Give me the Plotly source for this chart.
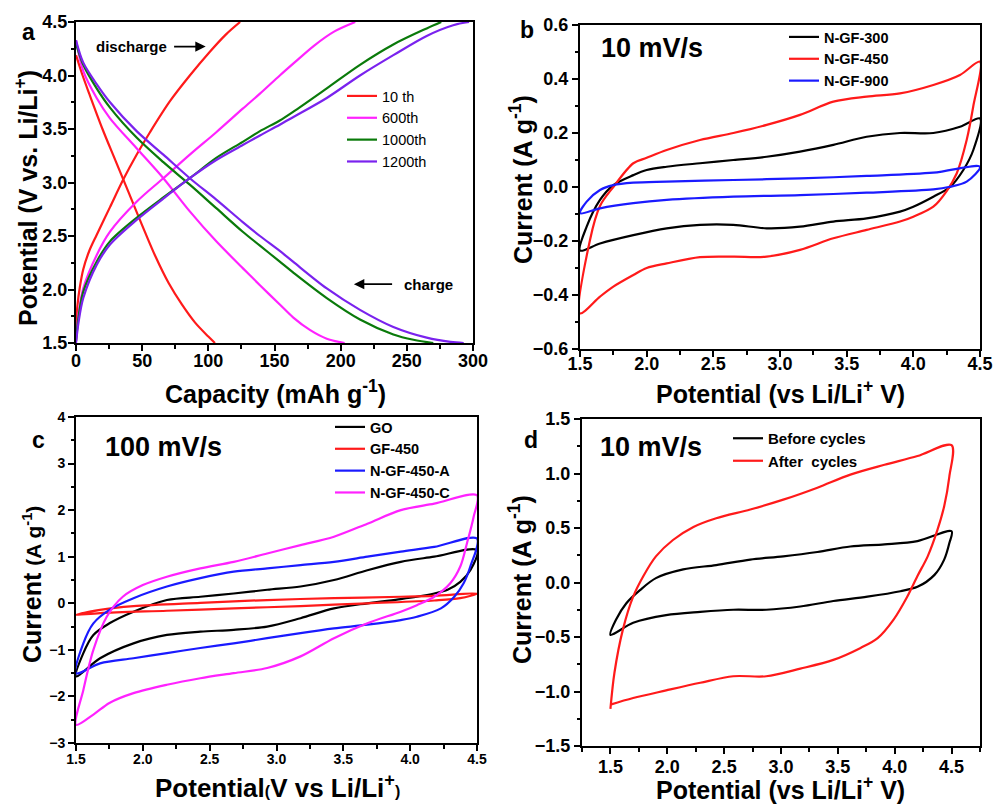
import plotly.graph_objects as go

# ---------------- Panel a data (capacity mAh/g, potential V) ----------------
a_names = ["10 th", "600th", "1000th", "1200th"]
a_colors = ["#ff1a1a", "#ff22ff", "#0a7a0a", "#7a22ee"]

a10_dis_cap = [0, 1, 3, 5.5, 10, 15.6, 25.7, 35.8, 45.8, 55.9, 71, 86, 101, 113, 124]
a10_dis_v = [1.65, 1.84, 2.03, 2.19, 2.36, 2.51, 2.77, 3.03, 3.26, 3.47, 3.76, 4.0, 4.22, 4.38, 4.5]
a10_chg_cap = [0, 5, 10, 20, 30, 40, 50, 60, 70, 80, 90, 100, 105]
a10_chg_v = [4.19, 4.0, 3.83, 3.5, 3.2, 2.9, 2.6, 2.31, 2.06, 1.86, 1.69, 1.56, 1.5]

a600_dis_cap = [0, 2, 5.5, 15.6, 25.7, 45.8, 66, 86, 106, 126, 139, 154, 165, 180, 195, 211]
a600_dis_v = [1.52, 1.78, 2.01, 2.32, 2.54, 2.82, 3.04, 3.26, 3.47, 3.69, 3.83, 4.0, 4.12, 4.28, 4.41, 4.5]
a600_chg_cap = [0, 5.5, 15.6, 25.7, 45.8, 66, 86, 106, 126, 139, 154, 164, 177, 189.5, 203]
a600_chg_v = [4.33, 4.04, 3.79, 3.6, 3.32, 3.04, 2.73, 2.45, 2.2, 2.04, 1.86, 1.74, 1.62, 1.54, 1.5]

a1000_dis_cap = [0, 2, 5.5, 15.6, 25.7, 45.8, 66, 86, 106, 126, 139, 154, 164, 189.5, 214.6, 239.8, 265, 276]
a1000_dis_v = [1.52, 1.75, 1.98, 2.26, 2.45, 2.67, 2.86, 3.04, 3.23, 3.38, 3.48, 3.58, 3.66, 3.88, 4.1, 4.29, 4.44, 4.5]
a1000_chg_cap = [0, 5.5, 15.6, 25.7, 45.8, 66, 86, 106, 126, 139, 154, 164, 189.5, 214.6, 239.8, 255, 270]
a1000_chg_v = [4.3, 4.1, 3.88, 3.7, 3.42, 3.19, 2.98, 2.76, 2.54, 2.41, 2.26, 2.16, 1.92, 1.72, 1.58, 1.53, 1.5]

a1200_dis_cap = [0, 2, 5.5, 15.6, 25.7, 45.8, 66, 86, 106, 126, 139, 154, 164, 189.5, 214.6, 239.8, 265, 285, 297]
a1200_dis_v = [1.5, 1.7, 1.92, 2.23, 2.42, 2.65, 2.85, 3.04, 3.21, 3.35, 3.44, 3.54, 3.61, 3.79, 4.0, 4.19, 4.37, 4.47, 4.5]
a1200_chg_cap = [0, 5.5, 15.6, 25.7, 45.8, 66, 86, 106, 126, 139, 154, 164, 189.5, 214.6, 239.8, 265, 283, 293]
a1200_chg_v = [4.33, 4.12, 3.92, 3.75, 3.48, 3.26, 3.04, 2.84, 2.63, 2.5, 2.36, 2.26, 2.01, 1.81, 1.65, 1.55, 1.51, 1.5]

# ---------------- Panel b data (CV, 10 mV/s) ----------------
b_names = ["N-GF-300", "N-GF-450", "N-GF-900"]
b_colors = ["#000000", "#ff1a1a", "#1a1aff"]

b300_up_v = [1.5, 1.55, 1.65, 1.75, 1.9, 2.0, 2.15, 2.4, 2.65, 2.9, 3.15, 3.4, 3.65, 3.9, 4.15, 4.35, 4.5]
b300_up_i = [-0.235, -0.147, -0.048, 0.007, 0.044, 0.063, 0.075, 0.088, 0.1, 0.112, 0.131, 0.156, 0.186, 0.2, 0.2, 0.223, 0.254]
b300_dn_v = [4.5, 4.45, 4.375, 4.275, 4.15, 4.0, 3.9, 3.65, 3.4, 3.15, 2.9, 2.65, 2.4, 2.15, 1.9, 1.65, 1.5]
b300_dn_i = [0.22, 0.137, 0.063, 0.0, -0.036, -0.073, -0.091, -0.116, -0.128, -0.147, -0.153, -0.14, -0.14, -0.153, -0.178, -0.209, -0.235]

b450_up_v = [1.5, 1.575, 1.65, 1.75, 1.9, 2.0, 2.15, 2.4, 2.65, 2.9, 3.15, 3.4, 3.65, 3.9, 4.15, 4.35, 4.5]
b450_up_i = [-0.468, -0.196, -0.07, 0.0, 0.088, 0.108, 0.137, 0.174, 0.2, 0.23, 0.267, 0.316, 0.335, 0.347, 0.378, 0.415, 0.464]
b450_dn_v = [4.5, 4.45, 4.4, 4.325, 4.25, 4.15, 4.0, 3.9, 3.65, 3.4, 3.15, 2.9, 2.65, 2.4, 2.15, 2.0, 1.9, 1.75, 1.65, 1.5]
b450_dn_i = [0.464, 0.3, 0.174, 0.05, -0.015, -0.073, -0.11, -0.128, -0.159, -0.19, -0.233, -0.258, -0.258, -0.26, -0.283, -0.3, -0.326, -0.369, -0.406, -0.468]

b900_up_v = [1.5, 1.55, 1.65, 1.75, 1.9, 2.15, 2.65, 3.15, 3.65, 4.15, 4.5]
b900_up_i = [-0.097, -0.054, -0.011, 0.007, 0.016, 0.02, 0.026, 0.032, 0.041, 0.053, 0.075]
b900_dn_v = [4.5, 4.4, 4.275, 4.15, 3.65, 3.15, 2.65, 2.15, 1.9, 1.65, 1.5]
b900_dn_i = [0.063, 0.02, 0.001, -0.009, -0.021, -0.03, -0.036, -0.048, -0.06, -0.079, -0.097]

# ---------------- Panel c data (CV, 100 mV/s) ----------------
c_names = ["GO", "GF-450", "N-GF-450-A", "N-GF-450-C"]
c_colors = ["#000000", "#ff1a1a", "#1a1aff", "#ff22ff"]

cGO_up_v = [1.5, 1.555, 1.63, 1.75, 1.93, 2.18, 2.43, 2.68, 2.93, 3.18, 3.43, 3.68, 3.93, 4.18, 4.5]
cGO_up_i = [-1.57, -1.07, -0.68, -0.43, -0.18, 0.07, 0.14, 0.21, 0.29, 0.36, 0.5, 0.71, 0.89, 1.0, 1.14]
cGO_dn_v = [4.5, 4.45, 4.375, 4.28, 4.18, 4.05, 3.93, 3.68, 3.43, 3.18, 2.93, 2.68, 2.43, 2.18, 1.93, 1.68, 1.5]
cGO_dn_i = [1.0, 0.71, 0.46, 0.29, 0.21, 0.14, 0.09, 0.0, -0.11, -0.32, -0.5, -0.57, -0.61, -0.68, -0.86, -1.18, -1.57]

cGF_up_v = [1.5, 1.68, 1.93, 2.43, 2.93, 3.43, 3.93, 4.18, 4.5]
cGF_up_i = [-0.25, -0.14, -0.06, 0.01, 0.07, 0.11, 0.14, 0.16, 0.21]
cGF_dn_v = [4.5, 4.375, 4.18, 3.68, 3.18, 2.68, 2.18, 1.68, 1.5]
cGF_dn_i = [0.2, 0.11, 0.06, 0.0, -0.06, -0.11, -0.16, -0.21, -0.25]

cA_up_v = [1.5, 1.555, 1.63, 1.75, 1.93, 2.18, 2.43, 2.68, 2.93, 3.18, 3.43, 3.68, 3.93, 4.18, 4.5]
cA_up_i = [-1.5, -0.86, -0.43, -0.14, 0.11, 0.36, 0.54, 0.68, 0.75, 0.82, 0.89, 1.0, 1.11, 1.21, 1.39]
cA_dn_v = [4.5, 4.45, 4.4, 4.33, 4.23, 4.05, 3.93, 3.68, 3.43, 3.18, 2.93, 2.68, 2.43, 2.18, 1.93, 1.68, 1.5]
cA_dn_i = [1.29, 0.79, 0.43, 0.14, -0.11, -0.29, -0.36, -0.46, -0.54, -0.64, -0.75, -0.86, -0.96, -1.07, -1.18, -1.29, -1.5]

cC_up_v = [1.5, 1.555, 1.63, 1.73, 1.85, 2.0, 2.18, 2.43, 2.68, 2.93, 3.18, 3.43, 3.68, 3.93, 4.18, 4.5]
cC_up_i = [-2.61, -1.86, -1.0, -0.29, 0.14, 0.39, 0.57, 0.75, 0.89, 1.07, 1.25, 1.43, 1.71, 2.0, 2.14, 2.32]
cC_dn_v = [4.5, 4.475, 4.425, 4.375, 4.3, 4.18, 4.05, 3.93, 3.68, 3.43, 3.18, 2.93, 2.68, 2.43, 2.18, 1.93, 1.75, 1.63, 1.5]
cC_dn_i = [2.32, 1.86, 1.29, 0.79, 0.43, 0.14, -0.04, -0.18, -0.43, -0.75, -1.14, -1.39, -1.5, -1.61, -1.75, -1.93, -2.14, -2.39, -2.61]

# ---------------- Panel d data (CV before / after cycles) ----------------
d_names = ["Before cycles", "After  cycles"]
d_colors = ["#000000", "#ff1a1a"]

dB_up_v = [1.5, 1.55, 1.64, 1.76, 1.9, 2.14, 2.43, 2.73, 3.02, 3.32, 3.61, 3.91, 4.2, 4.5]
dB_up_i = [-0.48, -0.34, -0.19, -0.07, 0.04, 0.12, 0.16, 0.21, 0.24, 0.28, 0.33, 0.35, 0.38, 0.47]
dB_dn_v = [4.5, 4.48, 4.435, 4.35, 4.2, 4.05, 3.76, 3.46, 3.17, 2.87, 2.58, 2.29, 1.99, 1.7, 1.5]
dB_dn_i = [0.47, 0.36, 0.21, 0.07, -0.04, -0.08, -0.13, -0.17, -0.22, -0.25, -0.25, -0.27, -0.3, -0.37, -0.48]

dA_up_v = [1.5, 1.535, 1.61, 1.7, 1.79, 1.9, 2.05, 2.23, 2.43, 2.73, 3.02, 3.32, 3.61, 3.91, 4.2, 4.5]
dA_up_i = [-1.16, -0.83, -0.43, -0.13, 0.06, 0.24, 0.39, 0.51, 0.59, 0.67, 0.76, 0.87, 0.99, 1.08, 1.16, 1.26]
dA_dn_v = [4.5, 4.48, 4.435, 4.375, 4.29, 4.2, 4.11, 3.99, 3.85, 3.7, 3.46, 3.17, 2.87, 2.58, 2.29, 1.99, 1.7, 1.5]
dA_dn_i = [1.26, 0.97, 0.7, 0.48, 0.24, 0.06, -0.13, -0.34, -0.51, -0.6, -0.71, -0.79, -0.86, -0.86, -0.92, -0.99, -1.06, -1.12]

FONT = "Liberation Sans"
W, H = 994, 804


def px(x):
    return x / W


def py(y):
    return 1 - y / H


fig = go.Figure()
LINE = dict(width=2.2, shape="spline", smoothing=0.9)


def add_loop(x1, y1, x2, y2, name, color, xa, ya, legend):
    fig.add_trace(go.Scatter(
        x=list(x1) + [None] + list(x2), y=list(y1) + [None] + list(y2),
        mode="lines", name=name, line=dict(LINE, color=color),
        xaxis=xa, yaxis=ya, legend=legend, connectgaps=False))


def add_cv(v1, i1, v2, i2, name, color, xa, ya, legend):
    fig.add_trace(go.Scatter(
        x=list(v1) + list(v2)[1:], y=list(i1) + list(i2)[1:],
        mode="lines", name=name, line=dict(LINE, color=color),
        xaxis=xa, yaxis=ya, legend=legend))


a_sets = [
    (a10_dis_cap, a10_dis_v, a10_chg_cap, a10_chg_v),
    (a600_dis_cap, a600_dis_v, a600_chg_cap, a600_chg_v),
    (a1000_dis_cap, a1000_dis_v, a1000_chg_cap, a1000_chg_v),
    (a1200_dis_cap, a1200_dis_v, a1200_chg_cap, a1200_chg_v),
]
for (x1, y1, x2, y2), n, c in zip(a_sets, a_names, a_colors):
    add_loop(x1, y1, x2, y2, n, c, "x", "y", "legend")

b_sets = [
    (b300_up_v, b300_up_i, b300_dn_v, b300_dn_i),
    (b450_up_v, b450_up_i, b450_dn_v, b450_dn_i),
    (b900_up_v, b900_up_i, b900_dn_v, b900_dn_i),
]
for (x1, y1, x2, y2), n, c in zip(b_sets, b_names, b_colors):
    add_cv(x1, y1, x2, y2, n, c, "x2", "y2", "legend2")

c_sets = [
    (cGO_up_v, cGO_up_i, cGO_dn_v, cGO_dn_i),
    (cGF_up_v, cGF_up_i, cGF_dn_v, cGF_dn_i),
    (cA_up_v, cA_up_i, cA_dn_v, cA_dn_i),
    (cC_up_v, cC_up_i, cC_dn_v, cC_dn_i),
]
for (x1, y1, x2, y2), n, c in zip(c_sets, c_names, c_colors):
    add_cv(x1, y1, x2, y2, n, c, "x3", "y3", "legend3")

d_sets = [
    (dB_up_v, dB_up_i, dB_dn_v, dB_dn_i),
    (dA_up_v, dA_up_i, dA_dn_v, dA_dn_i),
]
for (x1, y1, x2, y2), n, c in zip(d_sets, d_names, d_colors):
    add_cv(x1, y1, x2, y2, n, c, "x4", "y4", "legend4")


def axis(domain, rng, dtick, minor, anchor, fmt, size, standoff=0, tick0=None):
    return dict(
        domain=domain, range=rng, dtick=dtick, tick0=rng[0] if tick0 is None else tick0,
        anchor=anchor, showgrid=False, zeroline=False, showline=True, linecolor="black",
        linewidth=2, mirror=True, ticks="outside", ticklen=6, tickwidth=2, tickcolor="black",
        tickformat=fmt, ticklabelstandoff=standoff,
        tickfont=dict(family=FONT, size=size, color="black", weight="bold"),
        minor=dict(ticks="outside", ticklen=3.5, tickwidth=2, tickcolor="black", dtick=minor,
                   tick0=rng[0], showgrid=False),
        automargin=False, fixedrange=True,
    )


layout = dict(
    width=W, height=H, margin=dict(l=0, r=0, t=0, b=0),
    paper_bgcolor="white", plot_bgcolor="white", showlegend=True,
    font=dict(family=FONT, color="black"),
)

xa = axis([px(76), px(473)], [0, 300], 50, 25, "y", "d", 18, -6)
ya = axis([py(343), py(22)], [1.5, 4.5], 0.5, 0.25, "x", ".1f", 18, -3)
xb = axis([px(580), px(980)], [1.5, 4.5], 0.5, 0.25, "y2", ".1f", 18, -9)
yb = axis([py(349), py(25)], [-0.6, 0.6], 0.2, 0.1, "x2", ".1f", 18, 0)
xc = axis([px(76), px(477)], [1.5, 4.5], 0.5, 0.25, "y3", ".1f", 14, -4)
yc = axis([py(743), py(417)], [-3, 4], 1, 0.5, "x3", "d", 14, 0)
xd = axis([px(582), px(980)], [1.25, 4.75], 0.5, 0.25, "y4", ".1f", 18, -3, tick0=1.5)
yd = axis([py(746), py(419)], [-1.5, 1.5], 0.5, 0.25, "x4", ".1f", 18, 0)

layout.update(xaxis=xa, yaxis=ya, xaxis2=xb, yaxis2=yb, xaxis3=xc, yaxis3=yc, xaxis4=xd, yaxis4=yd)


def leg(x, y, size, bold):
    return dict(x=px(x), y=py(y), xanchor="left", yanchor="top", bgcolor="rgba(0,0,0,0)",
                font=dict(family=FONT, size=size, color="black", weight="bold" if bold else "normal"),
                itemwidth=30, tracegroupgap=0, borderwidth=0)


layout["legend"] = leg(342, 80, 14.5, False)
layout["legend2"] = leg(784, 21, 14.5, True)
layout["legend3"] = leg(330, 411, 14.5, True)
layout["legend4"] = leg(728, 422, 15, True)

fig.update_layout(**layout)

TB = dict(family=FONT, color="black", weight="bold")


def ann(x, y, text, size, angle=0, **kw):
    fig.add_annotation(x=px(x), y=py(y), xref="paper", yref="paper", text=text, showarrow=False,
                       textangle=angle, font=dict(TB, size=size), xanchor="center", yanchor="middle", **kw)


# panel letters
ann(28, 32, "a", 23)
ann(527, 30, "b", 23)
ann(38, 440, "c", 23)
ann(531, 440, "d", 23)

# rate labels
ann(652, 48, "10 mV/s", 27)
ann(163, 447, "100 mV/s", 27)
ann(651, 447, "10 mV/s", 27)

# axis titles
ann(275, 392, "Capacity (mAh g<sup>-1</sup>)", 25)
ann(26, 198, "Potential (V vs. Li/Li<sup>+</sup>)", 25, -90)
ann(780, 392, "Potential (vs Li/Li<sup>+</sup> V)", 25)
ann(521, 180, "Current (A g<sup>-1</sup>)", 25, -90)
ann(277, 786, "Potential<span style='font-size:16px'>(</span>V vs Li/Li<sup>+</sup><span style='font-size:16px'>)</span>", 26)
ann(32, 585, "Current <span style='font-size:21px'>(A g<sup>-1</sup>)</span>", 25, -90)
ann(780, 788, "Potential (vs Li/Li<sup>+</sup> V)", 25)
ann(520, 580, "Current (A g<sup>-1</sup>)", 25, -90)

# discharge / charge arrows in panel a
fig.add_annotation(x=42, y=4.27, xref="x", yref="y", text="discharge", showarrow=False,
                   font=dict(TB, size=15))
fig.add_annotation(x=98, y=4.27, ax=73, ay=4.27, xref="x", yref="y", axref="x", ayref="y",
                   text="", showarrow=True, arrowhead=2, arrowsize=1.3, arrowwidth=1.6, arrowcolor="black")
fig.add_annotation(x=266, y=2.05, xref="x", yref="y", text="charge", showarrow=False,
                   font=dict(TB, size=15))
fig.add_annotation(x=210, y=2.05, ax=240, ay=2.05, xref="x", yref="y", axref="x", ayref="y",
                   text="", showarrow=True, arrowhead=2, arrowsize=1.3, arrowwidth=1.6, arrowcolor="black")

fig.write_html("out.html", config={"displayModeBar": False},
               post_script="document.body.style.margin='0';document.body.style.overflow='hidden';")
